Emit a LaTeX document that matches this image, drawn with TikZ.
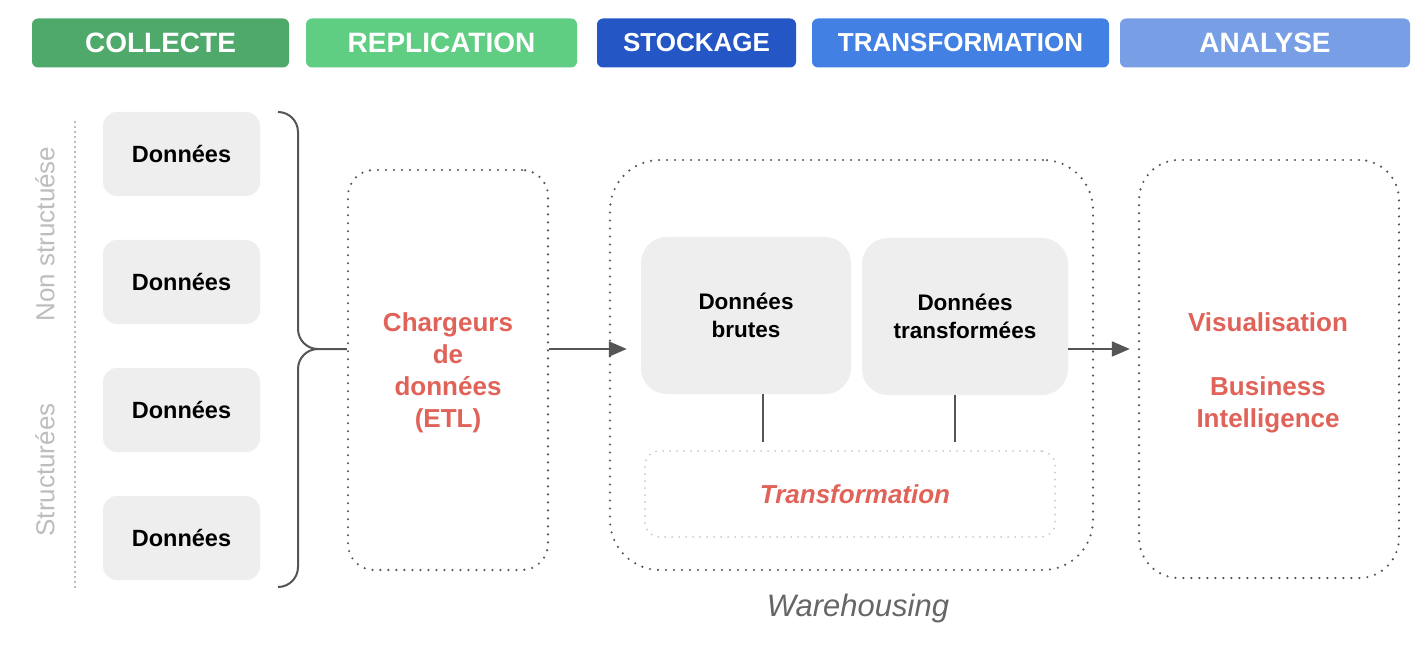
\documentclass[tikz,border=0pt]{standalone}
\usepackage{fontspec}
\setmainfont{Liberation Sans}
\usetikzlibrary{arrows.meta}
\definecolor{cCol}{HTML}{4EA96B}
\definecolor{cRep}{HTML}{5FCE83}
\definecolor{cSto}{HTML}{2456C6}
\definecolor{cTra}{HTML}{4281E3}
\definecolor{cAna}{HTML}{789FE5}
\definecolor{cRed}{HTML}{E06258}
\definecolor{cBox}{HTML}{EEEEEE}
\definecolor{cSide}{HTML}{BDBDBD}
\definecolor{cDark}{HTML}{555555}
\definecolor{cWare}{HTML}{666666}
\definecolor{cLight}{HTML}{C8C8C8}
\begin{document}
\begin{tikzpicture}[x=1pt,y=1pt,
  header/.style={rectangle,rounded corners=6pt,minimum height=49pt,inner sep=0pt,text=white,font=\bfseries\fontsize{28}{30}\selectfont},
  databox/.style={rectangle,rounded corners=14pt,fill=cBox,minimum width=157pt,minimum height=84pt,inner sep=0pt,font=\bfseries\fontsize{23.5}{26}\selectfont},
  bigbox/.style={rectangle,rounded corners=26pt,fill=cBox,inner sep=0pt,align=center,font=\bfseries\fontsize{22.5}{28}\selectfont},
  dotbox/.style={rectangle,draw=cDark,line width=2.4pt,dash pattern=on 0pt off 8pt,line cap=round,inner sep=0pt,align=center,text=cRed,font=\bfseries\fontsize{26}{32}\selectfont},
  lightbox/.style={rectangle,draw=cLight,line width=2pt,dash pattern=on 0pt off 7pt,line cap=round,rounded corners=14pt,inner sep=0pt,text=cRed,font=\bfseries\itshape\fontsize{26}{30}\selectfont},
  sidelabel/.style={rotate=90,text=cSide,font=\fontsize{26}{30}\selectfont},
  arr/.style={draw=cDark,line width=2pt,-{Triangle[length=18pt,width=15pt]}},
  conn/.style={draw=cDark,line width=2pt},
  brace/.style={draw=cDark,line width=2pt}
]
\fill[white] (0,0) rectangle (1420,-652);
\useasboundingbox (0,0) rectangle (1420,-652);

% headers
\node[header,fill=cCol,minimum width=257pt] (h1) at (160.5,-43) {COLLECTE};
\node[header,fill=cRep,minimum width=271pt] (h2) at (441.5,-43) {REPLICATION};
\node[header,fill=cSto,minimum width=199pt,font=\bfseries\fontsize{26}{30}\selectfont] (h3) at (696.5,-43) {STOCKAGE};
\node[header,fill=cTra,minimum width=297pt,font=\bfseries\fontsize{26}{30}\selectfont] (h4) at (960.5,-43) {TRANSFORMATION};
\node[header,fill=cAna,minimum width=290pt] (h5) at (1265,-43) {ANALYSE};

% side labels
\node[sidelabel] (ns) at (45,-234) {Non structuése};
\node[sidelabel] (st) at (45,-470) {Structurées};
\coordinate (lt) at (75,-122);
\coordinate (lb) at (75,-588);
\draw[draw=cDark!80,line width=1.6pt,dash pattern=on 0pt off 5pt,line cap=round] (lt) -- (lb);

% data boxes
\node[databox] (d1) at (181.5,-154) {Données};
\node[databox] (d2) at (181.5,-282) {Données};
\node[databox] (d3) at (181.5,-410) {Données};
\node[databox] (d4) at (181.5,-538) {Données};

% ETL
\node[dotbox,rounded corners=26pt,minimum width=200pt,minimum height=400pt] (etl) at (448,-370) {};
\node[text=cRed,align=center,font=\bfseries\fontsize{26}{32}\selectfont] (etlt) at (448,-373) {Chargeurs\\de\\données\\(ETL)};

% brace
\coordinate (tip) at (318,-349);
\draw[brace] (278,-112) to[out=0,in=90] (298,-132) -- (298,-329) to[out=-90,in=180] (tip) -- (etl.west |- tip);
\draw[brace] (tip) to[out=180,in=90] (298,-369) -- (298,-567) to[out=-90,in=0] (278,-587);

% warehouse
\node[dotbox,rounded corners=50pt,minimum width=483pt,minimum height=410pt] (wh) at (851.5,-365) {};
\node[text=cWare,font=\itshape\fontsize{31}{34}\selectfont] (whl) at (858,-608) {Warehousing};
\node[bigbox,minimum width=210pt,minimum height=157pt] (brut) at (746,-315.5) {Données\\brutes};
\node[bigbox,minimum width=206pt,minimum height=157pt] (trf) at (965,-316.5) {Données\\transformées};
\node[lightbox,minimum width=410pt,minimum height=86pt] (tbox) at (850,-494) {\hspace*{10pt}Transformation};
\draw[conn] (brut.south -| 763,0) -- ([yshift=8pt]tbox.north -| 763,0);
\draw[conn] (trf.south -| 955,0) -- ([yshift=8pt]tbox.north -| 955,0);

% analyse
\node[dotbox,rounded corners=40pt,minimum width=260pt,minimum height=418pt] (ana) at (1269,-369) {};
\node[text=cRed,align=center,font=\bfseries\fontsize{26}{32}\selectfont] (anat) at (1268,-373) {Visualisation\\\mbox{}\\Business\\Intelligence};

% arrows
\draw[arr] (etl.east |- tip) -- ([xshift=18pt]wh.west |- tip);
\draw[arr] (trf.east |- tip) -- ([xshift=-8pt]ana.west |- tip);
\end{tikzpicture}
\end{document}
